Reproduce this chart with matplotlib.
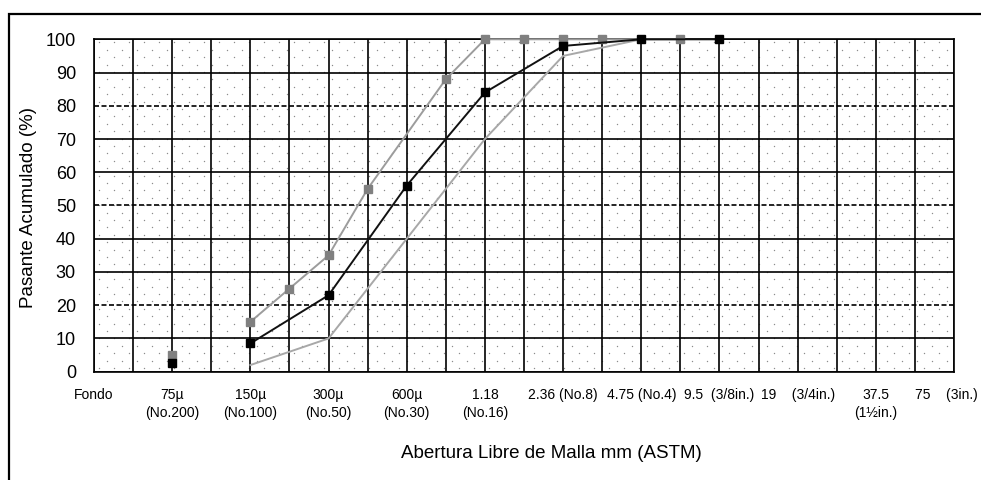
import matplotlib
matplotlib.use("Agg")
import matplotlib.pyplot as plt
import matplotlib.transforms as mtransforms
from matplotlib.patches import Rectangle
import numpy as np

plt.rcParams['font.family'] = ['Liberation Sans', 'DejaVu Sans']

# sieve axis: two units per halving of the opening (75 µm -> 2, 150 µm -> 4, ...)
tick_pos = [0, 2, 4, 6, 8, 10, 12, 14, 16, 18, 20, 22]
tick_labels = ["Fondo", "75µ\n(No.200)", "150µ\n(No.100)", "300µ\n(No.50)",
               "600µ\n(No.30)", "1.18\n(No.16)", "2.36 (No.8)", "4.75 (No.4)",
               "9.5  (3/8in.)", "19    (3/4in.)", "37.5\n(1½in.)", "75    (3in.)"]

# muestra (black squares)
muestra_pos = [2, 4, 6, 8, 10, 12, 14, 16]
muestra_pct = [2.5, 8.5, 23, 56, 84, 98, 100, 100]

# limite superior (grey squares)
sup_pos = [2, 4, 5, 6, 7, 9, 10, 11, 12, 13, 15]
sup_pct = [5, 15, 25, 35, 55, 88, 100, 100, 100, 100, 100]

# limite inferior (plain line)
inf_pos = [4, 6, 8, 10, 12, 14]
inf_pct = [2, 10, 40, 70, 95, 100]

W, H = 981, 480
fig = plt.figure(figsize=(W / 100, H / 100), dpi=100)
ax = fig.add_axes([94 / W, 1 - 371.7 / H, 860 / W, 332.4 / H])

ax.set_xlim(0, 22)
ax.set_ylim(0, 100)

# dotted background fill
dx, dy = 15 / 860, 7.4 / 332.4
pts = []
for j, yy in enumerate(np.arange(dy / 2, 1, dy)):
    off = dx / 2 if j % 2 else 0
    for xx in np.arange(dx / 3 + off, 1, dx):
        pts.append((xx, yy))
pts = np.array(pts)
ax.scatter(pts[:, 0], pts[:, 1], s=1.0, color='#8c8c8c', linewidths=0,
           transform=ax.transAxes, zorder=0)

# grid
for xv in range(0, 23):
    ax.axvline(xv, color='black', lw=1.2, zorder=1)
for yv in range(0, 101, 10):
    if yv in (20, 50, 80):
        ax.axhline(yv, color='black', lw=1.2, dashes=(3, 1.5), zorder=1)
    else:
        ax.axhline(yv, color='black', lw=1.2, zorder=1)

for s in ax.spines.values():
    s.set_linewidth(1.2)

# curves
ax.plot(inf_pos, inf_pct, color='#a8a8a8', lw=1.4, zorder=3, clip_on=False)
ax.plot(sup_pos[1:], sup_pct[1:], color='#9c9c9c', lw=1.4, zorder=3, clip_on=False)
ax.plot(sup_pos, sup_pct, ls='none', marker='s', ms=5.2, color='#808080',
        zorder=4, clip_on=False)
ax.plot(muestra_pos[1:], muestra_pct[1:], color='#111111', lw=1.4, zorder=5,
        clip_on=False)
ax.plot(muestra_pos, muestra_pct, ls='none', marker='s', ms=5.2, color='black',
        zorder=6, clip_on=False)

ax.set_xticks(tick_pos)
ax.set_xticklabels(tick_labels, fontsize=10, linespacing=1.35)
ax.set_yticks(range(0, 101, 10))
ax.tick_params(axis='y', length=0, labelsize=13, pad=13)
ax.tick_params(axis='x', length=0, pad=12)

# last label sits against the right edge; pull it in a little
last = ax.get_xticklabels()[-1]
last.set_transform(last.get_transform() +
                   mtransforms.ScaledTranslation(-8 / 100, 0, fig.dpi_scale_trans))

fig.text(551 / W, 1 - 453 / H, "Abertura Libre de Malla mm (ASTM)",
         ha='center', va='center', fontsize=13.5)
fig.text(29 / W, 1 - 208 / H, "Pasante Acumulado (%)", rotation=90,
         ha='center', va='center', fontsize=13.5)

# outer frame
fig.patches.append(Rectangle((9 / W, -0.1), 1.2, 1 - 14 / H + 0.1,
                             transform=fig.transFigure, fill=False,
                             edgecolor='black', lw=1.6))

fig.savefig("out.png", dpi=100)
